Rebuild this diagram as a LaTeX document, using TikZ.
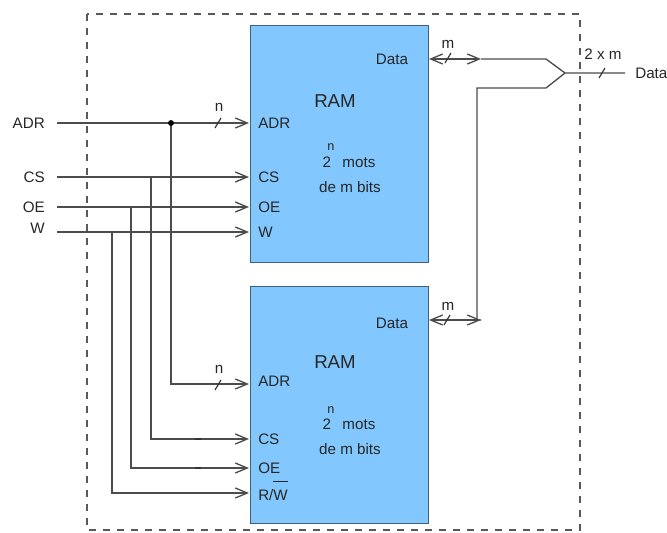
\documentclass[tikz,border=0pt]{standalone}
\usepackage{fontspec}
\setmainfont{Liberation Sans}
\usetikzlibrary{arrows.meta}
\newcommand{\busmark}[2]{\draw[bus] (#1-3,#2+5) -- (#1+3,#2-5);}

\begin{document}
\begin{tikzpicture}
  [x=0.75pt,y=-0.75pt,
   ram/.style={draw=ramedge,
               fill=ramblue,
               line width=0.9pt,
               minimum width=133.5pt,
               minimum height=177.5pt,
               anchor=north west},
   lab/.style={font=\fontsize{11.4}{13}\selectfont,
               text=black!85,
               inner sep=0pt},
   big/.style={lab,font=\fontsize{14}{16}\selectfont},
   wire/.style={draw=black!70,line width=1pt},
   bus/.style={draw=black!80,line width=0.85pt},
   sig/.style={wire,-{Straight Barb[length=9pt,width=7.5pt]}},
   both/.style={wire,{Straight Barb[length=9pt,width=7.5pt]}-{Straight Barb[length=9pt,width=7.5pt]}}]
  \definecolor{ramblue}{HTML}{82C8FF}
  \definecolor{ramedge}{HTML}{3F5F78}
  \useasboundingbox (0,0) rectangle (667,532);

  % outer frame
  \draw[draw=black!65,line width=0.8pt,dash pattern=on 5.5pt off 5pt]
    (87,14) rectangle (580,530);

  % memories
  \node[ram] (ramA) at (250,25) {};
  \node[ram] (ramB) at (250,286) {};
  \node[big] (nameA) at (335,101) {RAM};
  \node[big] (nameB) at (335,362) {RAM};
  \node[lab] (dataA) at (392,59) {Data};
  \node[lab] (dataB) at (392,323) {Data};
  \node[lab,font=\fontsize{9.5}{11}\selectfont] (expA) at (331,147) {n};
  \node[lab,font=\fontsize{9.5}{11}\selectfont] (expB) at (331,410) {n};
  \node[lab] (motsA) at (349,162) {2\hspace{0.75em}mots};
  \node[lab] (motsB) at (349,424) {2\hspace{0.75em}mots};
  \node[lab] (bitsA) at (350,187) {de m bits};
  \node[lab] (bitsB) at (350,449) {de m bits};

  % ports
  \foreach \name/\txt/\ypos in {adrA/ADR/123,csA/CS/177,oeA/OE/207,wA/W/232,
                                adrB/ADR/381,csB/CS/439,oeB/OE/468}
    \node[lab,anchor=west] (\name) at (258,\ypos) {\txt};
  \node[lab,anchor=west] (wB) at (258,491)
    {R/$\overline{\mbox{W}\rule{0pt}{13pt}}$};

  % inputs
  \foreach \name/\txt/\ypos in {adrIn/ADR/123,csIn/CS/177,oeIn/OE/207,wIn/W/228}
    \node[lab,anchor=east] (\name) at (45,\ypos) {\txt};
  \coordinate (adrS) at (57,123);
  \coordinate (csS) at (57,177);
  \coordinate (oeS) at (57,207);
  \coordinate (wS) at (57,232);
  \foreach \name/\ypos in {adr/123,cs/177,oe/207,w/232}
    \coordinate (\name E) at (249,\ypos);
  \foreach \name/\ypos in {adr/384,cs/439,oe/468,w/493}
    \coordinate (\name F) at (249,\ypos);

  \draw[sig] (adrS) -- (adrE);
  \draw[sig] (csS) -- (csE);
  \draw[sig] (oeS) -- (oeE);
  \draw[sig] (wS) -- (wE);
  \draw[sig] (171,123) -- (171,384) -- (adrF);
  \draw[sig] (151,177) -- (151,439) -- (csF);
  \draw[sig] (131,207) -- (131,468) -- (oeF);
  \draw[sig] (112,232) -- (112,493) -- (wF);
  \fill[black] (171,123) circle (2.2pt);
  \draw[bus,line width=1.2pt] (195,439) -- (201,439);
  \draw[bus,line width=1.2pt] (195,468) -- (201,468);

  % outputs
  \coordinate (portA) at (429,59);
  \coordinate (portB) at (429,320);
  \coordinate (tapA) at (481,59);
  \coordinate (tapB) at (481,320);
  \coordinate (merge) at (565,73);
  \coordinate (outS) at (625,73);
  \draw[both] (portA) -- (tapA);
  \draw[both] (portB) -- (tapB);
  \draw[wire] (tapA) -- (546,59) -- (merge) -- (outS);
  \draw[wire] (tapB) -- (477,320) -- (477,88) -- (546,88) -- (merge);
  \node[lab,anchor=west] (dataOut) at (635,73) {Data};

  % bus widths
  \node[lab] (nA) at (219,107) {n};
  \node[lab] (nB) at (219,369) {n};
  \node[lab] (mA) at (448,44) {m};
  \node[lab] (mB) at (448,306) {m};
  \node[lab] (mm) at (603,54) {2 x m};
  \busmark{218}{123}
  \busmark{218}{385}
  \busmark{448}{58}
  \busmark{447}{320}
  \busmark{602}{73}
\end{tikzpicture}
\end{document}
